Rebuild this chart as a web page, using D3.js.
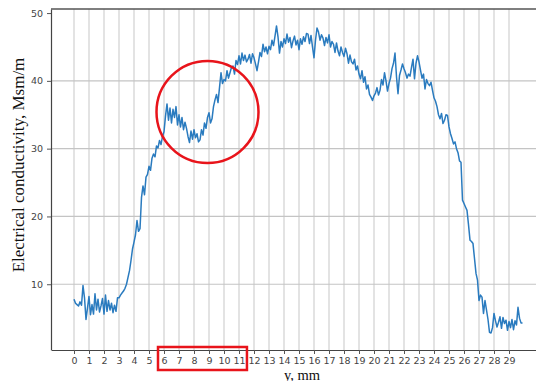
<!DOCTYPE html>
<html><head><meta charset="utf-8">
<script src="https://cdn.jsdelivr.net/npm/d3@7"></script>
<style>body{margin:0;background:#fff;}svg{display:block;}</style>
</head><body>
<svg id="c" width="536" height="381"></svg>
<script>
const xStart = 0, xStep = 0.1;
const conductivity = [
7.8,7.2,7.0,6.8,7.4,6.9,9.8,8.0,4.8,6.5,
8.2,5.5,7.0,5.6,8.6,6.2,7.8,5.9,6.8,7.9,
5.6,8.4,6.0,7.6,6.2,7.2,5.8,6.9,6.0,8.0,
8.0,8.4,8.7,9.0,9.4,10.0,11.0,12.0,13.5,15.2,
16.2,17.3,19.4,17.8,18.2,22.8,24.5,23.2,25.8,26.2,
27.4,26.8,28.6,29.2,28.8,30.4,30.1,31.2,30.6,31.8,
32.5,34.8,36.6,34.2,36.0,33.8,35.8,34.6,36.2,33.5,
35.0,33.2,34.6,32.8,33.9,33.0,31.8,30.9,32.6,31.4,
32.8,31.6,32.2,31.0,31.3,32.8,32.0,33.8,33.0,34.6,
35.3,33.8,34.4,36.2,37.2,38.0,36.8,39.0,41.2,39.6,
40.2,40.0,41.5,40.4,41.2,42.0,42.2,41.0,43.0,42.4,
43.7,42.5,44.1,43.0,43.8,42.8,43.2,43.9,42.6,44.0,
43.4,42.5,41.5,42.8,44.2,43.6,45.4,44.3,45.0,44.0,
45.1,44.6,46.0,45.2,46.6,48.1,46.5,44.1,45.8,45.0,
46.2,45.5,46.9,45.7,46.4,44.9,45.9,46.6,45.3,46.0,
44.6,46.2,45.4,46.5,45.8,47.0,46.9,45.5,46.7,45.0,
43.4,46.0,47.8,47.2,46.0,46.8,46.3,45.2,46.4,45.6,
46.8,45.0,45.8,45.4,44.2,45.6,44.4,43.7,45.0,44.2,
43.6,44.8,44.0,42.6,43.8,42.8,42.5,43.2,41.6,42.2,
41.0,40.3,41.5,39.8,40.6,38.8,39.4,38.0,37.6,37.1,
37.8,38.2,39.0,37.9,38.6,40.2,39.4,41.2,40.0,38.5,
39.6,40.4,41.8,42.6,44.1,40.6,38.1,40.8,41.6,42.5,
41.8,41.2,40.4,41.0,40.7,42.0,43.2,40.3,42.6,43.7,
42.8,41.6,40.4,41.0,38.8,40.2,39.6,39.3,39.8,38.6,
37.5,37.0,36.2,35.0,34.4,35.2,33.7,34.2,35.0,34.9,
33.2,32.2,31.5,30.7,31.0,30.0,29.4,28.2,28.0,22.4,
21.9,21.4,20.9,18.8,16.5,16.3,16.0,13.8,11.6,10.6,
7.6,8.4,8.1,5.7,7.6,6.2,4.8,2.9,2.8,3.6,
5.7,4.6,3.7,4.4,5.2,3.5,5.1,4.2,4.7,3.2,
4.5,3.6,4.8,3.3,4.6,4.0,6.6,5.0,4.3,4.3
];
const xTicks = d3.range(0, 30);
const yTicks = [10, 20, 30, 40, 50];
const xLabel = "y, mm";
const yLabel = "Electrical conductivity, Msm/m";
// annotations in data units
const circleCenter = [8.9, 35.4];
const rectRange = [5.6, 11.53];

const data = conductivity.map((v, i) => ({x: +(xStart + i * xStep).toFixed(2), y: v}));

const svg = d3.select("#c");
const L = 51, T = 9, B = 350;
const x = d3.scaleLinear().domain([-1.5, 31.4]).range([51.5, 545]);
const y = d3.scaleLinear().domain([0.3, 50.6]).range([B, T]);

// vertical grid
svg.append("g").selectAll("line").data(xTicks).join("line")
  .attr("x1", d => x(d)).attr("x2", d => x(d))
  .attr("y1", T).attr("y2", B)
  .attr("stroke", "#e3e3e3").attr("stroke-width", 2);
// horizontal grid
svg.append("g").selectAll("line").data(yTicks.filter(d => d < 50)).join("line")
  .attr("x1", L).attr("x2", 536)
  .attr("y1", d => y(d)).attr("y2", d => y(d))
  .attr("stroke", "#c4c4c4").attr("stroke-width", 1.2);

// axes
const xAxis = d3.axisBottom(x).tickValues(xTicks).tickSize(4).tickSizeOuter(0).tickPadding(3).tickFormat(d3.format("d"));
const gx = svg.append("g").attr("transform", `translate(0,${B})`).call(xAxis);
gx.select(".domain").attr("stroke", "#444").attr("stroke-width", 1.2);
gx.selectAll(".tick line").attr("stroke", "#555");
gx.selectAll("text").attr("font-family", "DejaVu Sans").attr("font-size", 9.5).attr("fill", "#444");

const yAxis = d3.axisLeft(y).tickValues(yTicks).tickSize(4).tickSizeOuter(0).tickPadding(4);
const gy = svg.append("g").attr("transform", `translate(${L},0)`).call(yAxis);
gy.select(".domain").attr("stroke", "#444").attr("stroke-width", 1.2);
gy.selectAll(".tick line").attr("stroke", "#555");
gy.selectAll("text").attr("font-family", "DejaVu Sans").attr("font-size", 9.5).attr("fill", "#444");

// top spine
svg.append("line").attr("x1", L).attr("x2", 536).attr("y1", T).attr("y2", T)
  .attr("stroke", "#555").attr("stroke-width", 1.5);

// line
svg.append("path").datum(data)
  .attr("fill", "none").attr("stroke", "#2a7bbf").attr("stroke-width", 1.5)
  .attr("stroke-linejoin", "round")
  .attr("d", d3.line().x(d => x(d.x)).y(d => y(d.y)));

// labels
svg.append("text").attr("transform", `translate(24,165) rotate(-90)`)
  .attr("text-anchor", "middle").attr("font-family", "Liberation Serif")
  .attr("font-size", 17).attr("fill", "#111").text(yLabel);
svg.append("text").attr("x", 302).attr("y", 379.5)
  .attr("text-anchor", "middle").attr("font-family", "Liberation Serif")
  .attr("font-size", 14.5).attr("fill", "#111").text(xLabel);

// annotations
svg.append("circle").attr("cx", x(circleCenter[0])).attr("cy", y(circleCenter[1])).attr("r", 51)
  .attr("fill", "none").attr("stroke", "#e8141b").attr("stroke-width", 2.5);
svg.append("rect").attr("x", x(rectRange[0])).attr("y", 347)
  .attr("width", x(rectRange[1]) - x(rectRange[0])).attr("height", 23)
  .attr("fill", "none").attr("stroke", "#e8141b").attr("stroke-width", 2.5);
</script>
</body></html>
